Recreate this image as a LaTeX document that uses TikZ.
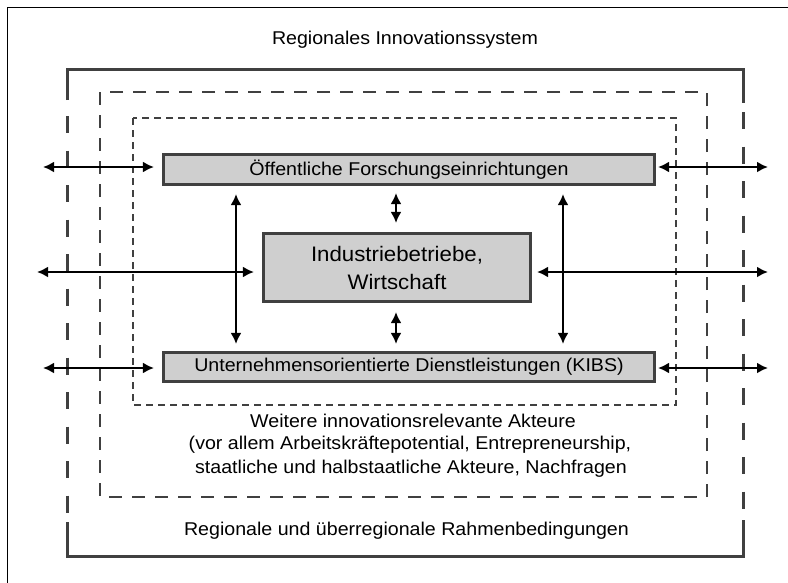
\documentclass[tikz,border=0pt]{standalone}
\usepackage{fontspec}
\usepackage{graphicx}
\setmainfont{Liberation Sans}
\usetikzlibrary{arrows.meta}
\definecolor{frame}{HTML}{404040}
\definecolor{boxfill}{HTML}{CFCFCF}
\newcommand\txt[2]{\fontsize{#1}{#1}\selectfont\scalebox{1.06}[1]{#2}}
\begin{document}
\begin{tikzpicture}[x=1pt,y=-1pt,
  actor/.style={draw=frame, line width=2.6pt, fill=boxfill, inner sep=0pt, align=center},
  lbl/.style={inner sep=0pt, align=center, text=black},
  dbl/.style={line width=2.6pt, {Latex[length=11pt,width=11pt]}-{Latex[length=11pt,width=11pt]}},
  outerln/.style={draw=frame, line width=3pt},
]
\useasboundingbox (0,0) rectangle (788,582);
\begin{scope}
\clip (0,0) rectangle (788,582);
\draw[black, line width=1pt] (7,7) rectangle (800,600);
\end{scope}

% outer frame (solid top/bottom, long dashed sides)
\draw[outerln] (67,100) -- (67,69) -- (743,69) -- (743,103);
\draw[outerln] (67,522) -- (67,556) -- (743,556) -- (743,520);
\draw[outerln, dash pattern=on 17pt off 17.5pt] (67,116) -- (67,513);
\draw[outerln, dash pattern=on 17pt off 17.5pt] (743,112) -- (743,509);

% middle dashed frame
\draw[draw=frame, line width=2.4pt, dash pattern=on 13pt off 10pt] (100,92) rectangle (707,497);
% inner dashed frame
\draw[draw=frame, line width=2.1pt, dash pattern=on 7pt off 5pt] (133,118) rectangle (676,405);

% boxes
\node[actor, minimum width=491.5pt, minimum height=30.5pt] (top) at (409,169.5)
  {\txt{18.5}{Öffentliche Forschungseinrichtungen}};
\node[actor, minimum width=267.5pt, minimum height=68.5pt, font={\fontsize{21}{28}\selectfont}] (mid) at (397,267.5)
  {\scalebox{1.06}[1]{Industriebetriebe,}\\\scalebox{1.06}[1]{Wirtschaft}};
\node[actor, minimum width=491.5pt, minimum height=29.5pt] (bot) at (409,367)
  {\txt{18.5}{Unternehmensorientierte Dienstleistungen (KIBS)}};

% labels
\node[lbl] (ris) at (405,40) {\txt{18.5}{Regionales Innovationssystem}};
\node[lbl] (w1) at (413,421) {\txt{18.5}{Weitere innovationsrelevante Akteure}};
\node[lbl] (w2) at (410,445) {\txt{18.5}{(vor allem Arbeitskräftepotential, Entrepreneurship,}};
\node[lbl] (w3) at (411,469) {\txt{18.5}{staatliche und halbstaatliche Akteure, Nachfragen}};
\node[lbl] (rr) at (406.5,531) {\txt{18.5}{Regionale und überregionale Rahmenbedingungen}};

% horizontal arrows
\coordinate (l1) at (43,167);
\coordinate (r1) at (768,167);
\coordinate (l2) at (37,272);
\coordinate (r2) at (768,272);
\coordinate (l3) at (43,368);
\coordinate (r3) at (768,368);
\draw[dbl, shorten >=8pt] (l1) -- (l1 -| top.west);
\draw[dbl, shorten >=2pt] (r1) -- (r1 -| top.east);
\draw[dbl, shorten >=8pt] (l2) -- (l2 -| mid.west);
\draw[dbl, shorten >=5pt] (r2) -- (r2 -| mid.east);
\draw[dbl, shorten >=8pt] (l3) -- (l3 -| bot.west);
\draw[dbl, shorten >=2pt] (r3) -- (r3 -| bot.east);

% vertical arrows
\coordinate (vl) at (236,0);
\coordinate (vr) at (563,0);
\coordinate (vm) at (396,0);
\draw[dbl, shorten <=8pt, shorten >=7pt] (vl |- top.south) -- (vl |- bot.north);
\draw[dbl, shorten <=8pt, shorten >=7pt] (vr |- top.south) -- (vr |- bot.north);
\draw[dbl, shorten <=7pt, shorten >=9pt] (vm |- top.south) -- (vm |- mid.north);
\draw[dbl, shorten <=9pt, shorten >=7pt] (vm |- mid.south) -- (vm |- bot.north);
\end{tikzpicture}
\end{document}
